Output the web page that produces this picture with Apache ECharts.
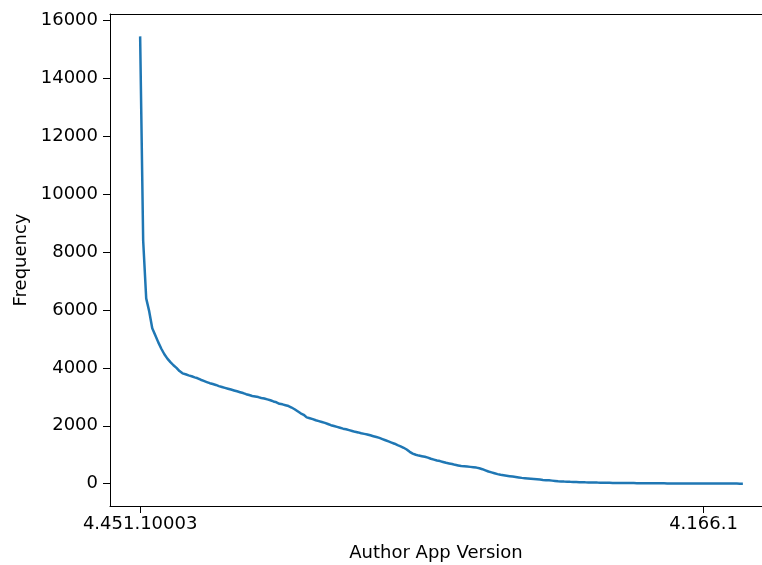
<!DOCTYPE html>
<html>
<head>
<meta charset="utf-8">
<script src="https://cdn.jsdelivr.net/npm/echarts@6/dist/echarts.min.js"></script>
<style>
  html, body { margin: 0; padding: 0; background: #fff; }
  #main { width: 762px; height: 565px; }
</style>
</head>
<body>
<div id="main"></div>
<script>
// frequency per app version, sorted high to low
let freq = [
    15450, 8400, 6400, 5950, 5370, 5130, 4880, 4660, 4470, 4320,
    4200, 4090, 4000, 3890, 3810, 3780, 3740, 3710, 3670, 3640,
    3590, 3550, 3510, 3470, 3440, 3410, 3370, 3340, 3310, 3280,
    3250, 3220, 3190, 3160, 3130, 3090, 3060, 3030, 3010, 2990,
    2960, 2940, 2910, 2880, 2840, 2810, 2760, 2740, 2710, 2680,
    2630, 2570, 2500, 2430, 2380, 2290, 2260, 2230, 2190, 2160,
    2130, 2100, 2060, 2020, 1990, 1960, 1930, 1900, 1880, 1850,
    1820, 1790, 1770, 1740, 1720, 1700, 1670, 1640, 1610, 1580,
    1540, 1500, 1460, 1420, 1380, 1330, 1290, 1240, 1180, 1100,
    1040, 1000, 970, 950, 930, 900, 860, 830, 800, 780,
    750, 720, 700, 680, 650, 630, 610, 600, 590, 580,
    570, 555, 530, 500, 460, 420, 390, 360, 330, 305,
    290, 275, 260, 245, 230, 215, 200, 190, 180, 170,
    160, 150, 140, 130, 122, 115, 105, 95, 85, 78,
    72, 67, 62, 58, 55, 52, 49, 46, 44, 42,
    40, 37, 35, 33, 31, 29, 27, 26, 24, 23,
    22, 21, 20, 19, 18, 17, 16, 15, 14, 14,
    13, 12, 12, 11, 10, 10, 9, 9, 8, 8,
    7, 7, 6, 6, 6, 5, 5, 5, 4, 4,
    4, 3, 3, 3, 3, 2, 2, 2, 1, 1
]
let xTickIdx = [0, 186]
let xTickLabels = ['4.451.10003', '4.166.1']
let yTicks = [0, 2000, 4000, 6000, 8000, 10000, 12000, 14000, 16000]

let n = freq.length
let data = freq.map((v, i) => [i, v])

// matplotlib style 5% margins
let ymax = Math.max(...freq)
let ymin = Math.min(...freq)
let ypad = (ymax - ymin) * 0.05
let xpad = (n - 1) * 0.05
// the original axes box is cut off by the right edge of the image (652 of 663 px shown)
let xmin = -xpad
let xmax = xmin + (n - 1 + 2 * xpad) * 652 / 663

let font = 'DejaVu Sans'
let fs = 18

var myChart = echarts.init(document.getElementById('main'))

let option = {
    animation: false,
    grid: {
        left: 110,
        top: 14,
        right: 0,
        bottom: 59,
        outerBoundsMode: 'none'
    },
    xAxis: [
        {
            type: 'value',
            min: xmin,
            max: xmax,
            name: 'Author App Version',
            nameLocation: 'middle',
            nameGap: 38,
            nameTextStyle: { color: '#000', fontSize: fs, fontFamily: font },
            splitLine: { show: false },
            axisLine: { show: true, onZero: false, lineStyle: { color: '#000', width: 1 } },
            axisTick: {
                show: true, length: 7, customValues: xTickIdx,
                lineStyle: { color: '#000', width: 1 }
            },
            axisLabel: {
                customValues: xTickIdx,
                margin: 9,
                color: '#000', fontSize: fs, fontFamily: font,
                formatter: v => xTickLabels[xTickIdx.indexOf(v)] || ''
            }
        },
        {
            // top spine only
            type: 'value',
            position: 'top',
            min: xmin,
            max: xmax,
            splitLine: { show: false },
            axisLine: { show: true, onZero: false, lineStyle: { color: '#000', width: 1 } },
            axisTick: { show: false },
            axisLabel: { show: false }
        }
    ],
    yAxis: {
        type: 'value',
        min: ymin - ypad,
        max: ymax + ypad,
        name: 'Frequency',
        nameLocation: 'middle',
        nameGap: 80,
        nameTextStyle: { color: '#000', fontSize: fs, fontFamily: font },
        splitLine: { show: false },
        axisLine: { show: true, onZero: false, lineStyle: { color: '#000', width: 1 } },
        axisTick: {
            show: true, length: 7, customValues: yTicks,
            lineStyle: { color: '#000', width: 1 }
        },
        axisLabel: {
            customValues: yTicks,
            margin: 12,
            color: '#000', fontSize: fs, fontFamily: font,
            formatter: v => String(v)
        }
    },
    series: [
        {
            type: 'line',
            data: data,
            showSymbol: false,
            lineStyle: { color: '#1f77b4', width: 2.5 },
            itemStyle: { color: '#1f77b4' }
        }
    ]
}

myChart.setOption(option)
</script>
</body>
</html>
